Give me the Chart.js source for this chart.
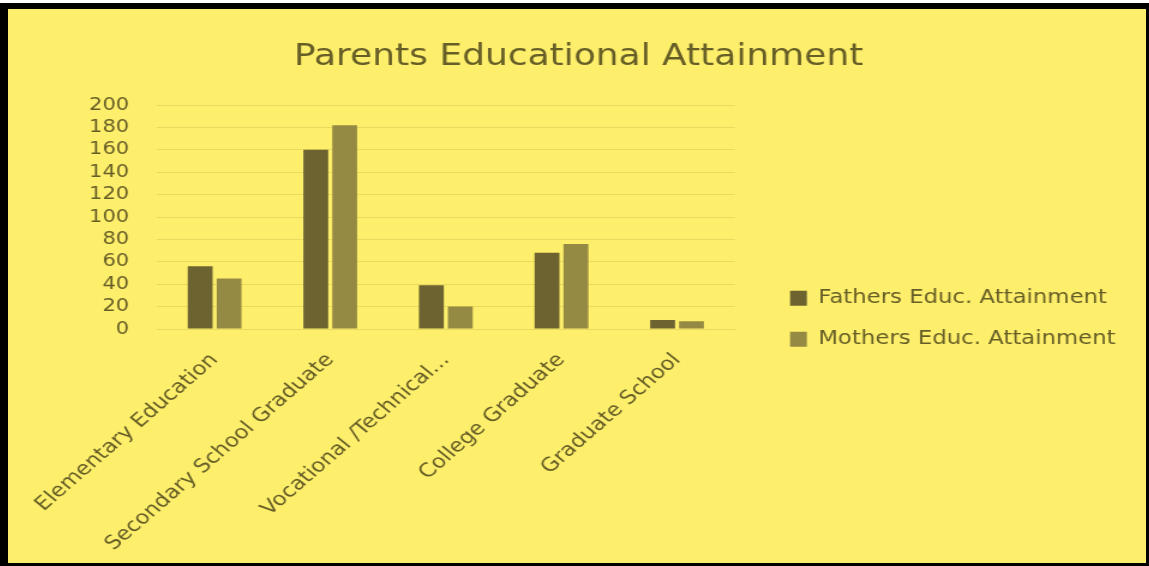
<!DOCTYPE html>
<html>
<head>
<meta charset="utf-8">
<script src="https://cdn.jsdelivr.net/npm/chart.js@4"></script>
<style>
  html, body { margin: 0; padding: 0; background: #fff; }
  #frame { position: absolute; left: 0; top: 3px; width: 1149px; height: 563px; background: #000; }
  #panel { position: absolute; left: 8px; top: 6px; width: 1138px; height: 554px; background: #FDEE6B; overflow: hidden; }
  /* the original picture is stretched sideways, so the chart is too */
  #chartEduc { transform: scaleX(1.2); transform-origin: 0 0; }
</style>
</head>
<body>
<div id="frame"><div id="panel"><canvas id="chartEduc" width="948" height="554"></canvas></div></div>
<script>
// values
var categories = ['Elementary Education', 'Secondary School Graduate', 'Vocational /Technical...', 'College Graduate', 'Graduate School'];
var fathers = [56, 160, 39, 68, 8];
var mothers = [45, 182, 20, 76, 7];
var yTicks = [0, 20, 40, 60, 80, 100, 120, 140, 160, 180, 200];

var textColor = '#665E27';
var fontFamily = "'DejaVu Sans', Verdana, sans-serif";

var ctx = document.getElementById('chartEduc').getContext('2d');
new Chart(ctx, {
    type: 'bar',
    data: {
        labels: categories,
        datasets: [{
            label: 'Fathers Educ. Attainment',
            data: fathers,
            backgroundColor: '#6C6331',
            categoryPercentage: 0.5,
            barPercentage: 0.86
        }, {
            label: 'Mothers Educ. Attainment',
            data: mothers,
            backgroundColor: '#958A43',
            categoryPercentage: 0.5,
            barPercentage: 0.86
        }]
    },
    options: {
        responsive: false,
        animation: false,
        layout: { padding: { left: 18, right: 15, top: 30, bottom: 0 } },
        plugins: {
            title: {
                display: true,
                text: 'Parents Educational Attainment',
                color: textColor,
                font: { family: fontFamily, size: 30, weight: 'normal' },
                padding: { top: 0, bottom: 30 }
            },
            legend: {
                position: 'right',
                maxWidth: 400,
                title: { display: true, text: '', font: { size: 12 }, padding: { top: 21, bottom: 0 } },
                labels: {
                    color: textColor,
                    font: { family: fontFamily, size: 19 },
                    boxWidth: 14,
                    boxHeight: 15,
                    padding: 22
                }
            },
            tooltip: { enabled: false }
        },
        scales: {
            x: {
                grid: { display: false },
                border: { color: '#E8D95F' },
                afterFit: function (axis) { axis.height = 234; },
                ticks: {
                    color: textColor,
                    font: { family: fontFamily, size: 19 },
                    maxRotation: 46,
                    minRotation: 46,
                    autoSkip: false,
                    padding: 12
                }
            },
            y: {
                min: 0,
                max: 200,
                afterFit: function (axis) { axis.width = 106; },
                afterBuildTicks: function (axis) {
                    axis.ticks = yTicks.map(function (v) { return { value: v }; });
                },
                grid: { color: '#E8D95F', drawTicks: false },
                border: { display: false },
                ticks: {
                    color: textColor,
                    font: { family: fontFamily, size: 17.5 },
                    autoSkip: false,
                    padding: 23
                }
            },
            // empty spacer between plot and legend
            gap: {
                type: 'linear',
                position: 'right',
                display: true,
                afterFit: function (axis) { axis.width = 24; },
                grid: { display: false },
                border: { display: false },
                ticks: { display: false }
            }
        }
    }
});
</script>
</body>
</html>
